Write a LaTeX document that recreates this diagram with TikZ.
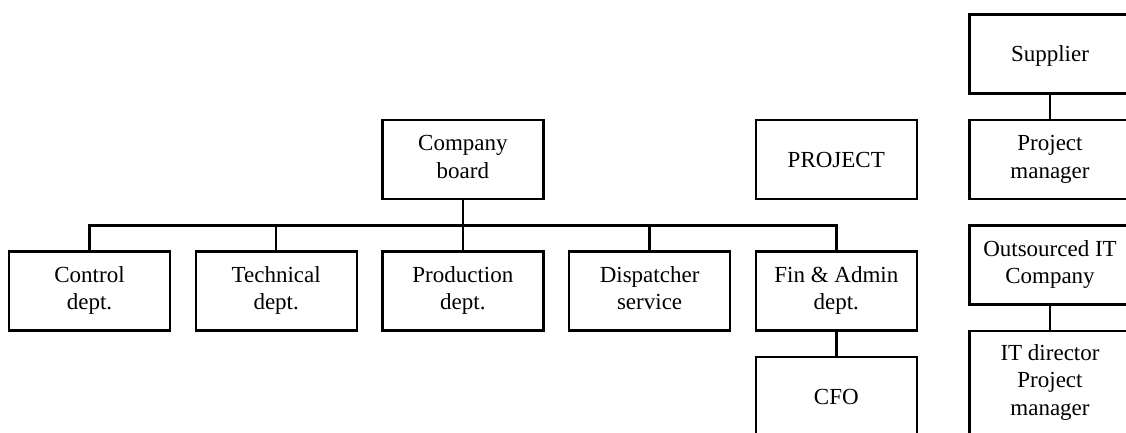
\documentclass[tikz,border=0pt]{standalone}
\usepackage{fontspec}
\setmainfont{Liberation Serif}
\usetikzlibrary{positioning,calc}
\tikzset{
  unit/.style ={draw,line width=2.4pt,align=center,font=\fontsize{23}{27.5}\selectfont,
                minimum width=161pt,minimum height=79pt,inner sep=2pt,
                execute at begin node={\rule{0pt}{21pt}},
                execute at end node={\rule[-5.5pt]{0pt}{5.5pt}}},
  tall/.style ={unit,minimum height=103pt},
  link/.style ={line width=2.4pt},
}

\begin{document}
\begin{tikzpicture}[x=1pt,y=-1pt,node distance=24pt and 23.3pt]
\clip (0,0) rectangle (1126,432);
\node[unit] (CTL) at (89.5,291) {Control\\dept.};
\node[unit,right=of CTL] (TEC) {Technical\\dept.};
\node[unit,right=of TEC] (PRD) {Production\\dept.};
\node[unit,right=of PRD] (DSP) {Dispatcher\\service};
\node[unit,right=of DSP] (FIN) {Fin \& Admin\\dept.};
\node[unit,above=50pt of PRD] (CB) {Company\\board};
\node[unit,above=50pt of FIN] (PRJ) {PROJECT};
\node[unit,below=of FIN] (CFO) {CFO};
\node[unit] (PM) at (1050,159.5) {Project\\manager};
\node[unit,above=of PM] (SUP) {Supplier};
\node[unit,below=of PM] (OIT) {Outsourced IT\\Company};
\node[tall,below=of OIT] (ITD) {IT director\\Project\\manager};
\coordinate (bus) at ($(CB.south)!0.5!(PRD.north)$);
\draw[link] (CB.south) -- (bus);
\foreach \d in {CTL,TEC,PRD,DSP,FIN} \draw[link] (\d.north) |- (bus);
\draw[link] (FIN) -- (CFO);
\draw[link] (SUP) -- (PM);
\draw[link] (OIT) -- (ITD);
\end{tikzpicture}
\end{document}
